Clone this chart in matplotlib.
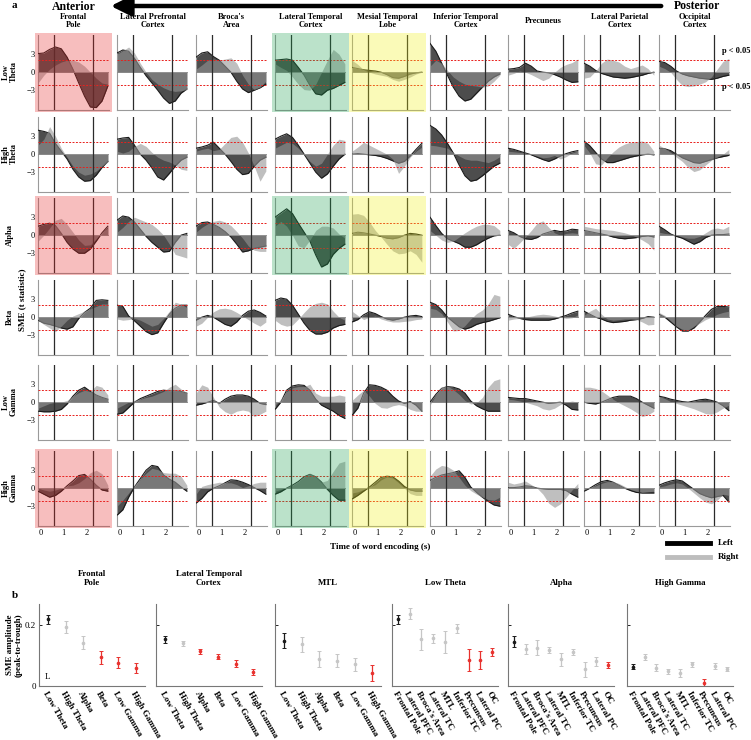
import matplotlib
matplotlib.use('Agg')
import matplotlib.pyplot as plt
from matplotlib.patches import Rectangle, FancyArrowPatch
from matplotlib.lines import Line2D

plt.rcParams['font.family'] = ['Liberation Serif', 'DejaVu Serif']

# ---------------- panel a data ----------------
regions_a = ['Frontal\nPole', 'Lateral Prefrontal\nCortex', "Broca's\nArea",
             'Lateral Temporal\nCortex', 'Mesial Temporal\nLobe', 'Inferior Temporal\nCortex',
             'Precuneus', 'Lateral Parietal\nCortex', 'Occipital\nCortex']
bands_a = ['Low\nTheta', 'High\nTheta', 'Alpha', 'Beta', 'Low\nGamma', 'High\nGamma']
time_s = [-0.1, 0.15, 0.4, 0.65, 0.9, 1.15, 1.4, 1.65, 1.9, 2.15, 2.4, 2.65, 2.9]
threshold = 2.1

# one row per region (FP, LPFC, Broca, LTC, MTL, ITC, Precuneus, LPC, OC)
low_theta_left = [
    [3.1, 3.2, 3.8, 4.2, 3.9, 2.5, 0.5, -1.8, -4.0, -5.8, -5.9, -4.8, -2.3],
    [3.2, 3.7, 3.5, 2.3, 0.8, -0.6, -1.8, -3.0, -4.3, -5.2, -4.8, -3.5, -2.8],
    [2.5, 3.2, 3.4, 2.6, 2.0, 1.0, 0.0, -1.5, -2.8, -3.4, -3.0, -2.6, -2.0],
    [2.0, 2.1, 2.2, 2.0, 0.8, -0.5, -2.2, -3.6, -3.8, -3.0, -2.7, -2.2, -1.7],
    [0.8, 0.6, 0.4, 0.3, 0.2, 0.0, -0.4, -0.9, -1.0, -0.7, -0.3, -0.1, 0.0],
    [4.8, 3.5, 1.5, -0.5, -2.5, -4.0, -4.8, -4.5, -3.5, -2.5, -1.5, -0.8, -0.3],
    [0.5, 0.6, 0.8, 1.5, 1.0, 0.2, 0.0, -0.1, -0.4, -0.8, -1.3, -1.7, -1.6],
    [1.5, 1.0, 0.3, -0.2, -0.5, -0.8, -0.9, -1.0, -0.9, -0.7, -0.5, -0.2, 0.0],
    [1.8, 1.6, 1.0, 0.2, -0.3, -0.6, -0.8, -1.0, -1.1, -1.2, -1.0, -0.7, -0.5],
]
low_theta_right = [
    [-1.8, -0.5, 0.5, 1.2, 1.7, 2.0, 2.0, 1.7, 1.0, 0.0, -1.0, -1.8, -2.0],
    [3.0, 3.6, 4.2, 3.2, 1.5, 0.0, -1.2, -2.0, -2.6, -3.0, -3.2, -3.1, -2.9],
    [0.5, 1.2, 2.0, 2.2, 2.0, 2.2, 2.4, 1.5, -0.5, -2.0, -2.9, -2.5, -1.5],
    [1.4, 0.8, 0.3, -0.8, -2.0, -2.9, -3.0, -2.0, 0.0, 2.0, 3.8, 3.0, 1.4],
    [2.0, 1.3, 0.4, 0.0, -0.3, -0.5, -0.7, -1.2, -1.5, -1.2, -0.8, -0.3, 0.0],
    [1.0, 2.0, 1.5, 0.3, -0.8, -1.5, -2.0, -2.2, -2.3, -2.5, -2.3, -1.5, -0.5],
    [-0.5, -0.2, 0.2, 0.0, -0.4, -0.9, -1.4, -1.0, 0.0, 0.8, 1.3, 1.6, 2.2],
    [-1.0, -0.8, 0.2, 1.5, 2.2, 2.0, 1.7, 1.0, 0.6, 0.9, 1.2, 0.6, -0.5],
    [1.0, 0.6, 0.0, -1.2, -2.2, -2.4, -2.3, -2.0, -1.6, -0.8, 0.5, 1.8, 2.3],
]
high_theta_left = [
    [4.0, 3.8, 3.5, 1.8, 0.5, -0.8, -2.5, -3.8, -4.5, -4.4, -3.5, -2.2, -1.2],
    [2.5, 2.7, 2.8, 1.5, 0.0, -1.0, -2.3, -3.8, -4.3, -3.2, -2.0, -1.0, -0.5],
    [1.0, 1.2, 1.5, 2.0, 1.0, 0.0, -1.2, -2.5, -3.4, -3.2, -2.0, -1.0, -0.5],
    [2.5, 3.0, 3.4, 2.8, 1.5, 0.0, -1.5, -3.0, -4.0, -3.3, -2.0, -0.8, 0.0],
    [0.0, 0.1, 0.0, -0.1, -0.2, -0.4, -0.7, -1.1, -1.5, -1.2, -0.3, 0.8, 1.8],
    [4.8, 4.2, 3.2, 1.8, 0.2, -1.8, -3.6, -4.5, -4.3, -3.6, -2.8, -2.0, -1.5],
    [1.0, 0.8, 0.5, 0.2, -0.1, -0.5, -0.9, -1.2, -0.8, -0.3, 0.1, 0.4, 0.6],
    [2.2, 1.4, 0.3, -0.8, -1.4, -1.4, -1.1, -0.8, -0.5, -0.3, -0.1, 0.0, -0.1],
    [1.0, 0.9, 0.6, 0.0, -0.6, -1.0, -1.4, -1.5, -1.2, -0.9, -0.6, -0.4, -0.2],
]
high_theta_right = [
    [1.5, 2.5, 4.6, 3.0, 1.0, -0.5, -2.0, -3.0, -3.5, -3.3, -2.8, -2.0, -1.3],
    [0.5, 0.2, 0.5, 1.3, 1.8, 1.3, 0.3, -0.5, -1.0, -1.3, -1.8, -2.5, -2.7],
    [0.5, 0.8, 1.0, 0.6, 0.8, 1.8, 2.8, 3.0, 2.0, 0.2, -2.0, -4.5, -2.8],
    [1.0, 1.5, 2.0, 1.8, 1.0, 0.0, -1.2, -2.0, -1.5, 0.0, 1.5, 2.5, 2.3],
    [0.5, 1.2, 2.0, 1.5, 1.0, 0.5, 0.0, -0.8, -3.2, -2.0, -0.5, 0.5, 1.2],
    [1.5, 1.4, 1.2, 1.0, 0.3, -0.3, -0.8, -1.0, -1.0, -1.2, -1.4, -1.0, -0.4],
    [0.5, 0.4, 0.3, 0.2, 0.0, -0.3, -0.6, -0.5, -0.2, -0.8, -0.4, 0.2, 0.5],
    [1.5, 0.2, -1.6, -1.8, -0.6, 0.4, 1.2, 1.7, 2.0, 2.1, 2.2, 1.8, 0.5],
    [1.5, 1.0, 0.3, -0.5, -1.2, -2.2, -2.9, -2.6, -1.8, -1.0, -0.5, 0.0, 0.8],
]
alpha_left = [
    [1.5, 1.8, 2.0, 1.6, 0.3, -1.2, -2.3, -3.0, -3.0, -2.3, -1.0, 0.4, 1.5],
    [2.5, 3.2, 3.0, 2.2, 1.0, -0.2, -1.2, -2.0, -2.8, -2.7, -1.2, 0.0, 0.3],
    [1.5, 2.1, 2.2, 1.8, 1.3, 0.6, -0.3, -1.5, -2.8, -2.6, -2.2, -2.0, -1.8],
    [3.0, 3.7, 4.4, 3.6, 2.0, 0.5, -1.0, -3.3, -5.3, -4.8, -3.2, -2.2, -1.5],
    [0.3, 0.5, 0.4, 0.2, 0.0, -0.2, -0.5, -0.6, -0.4, 0.0, 0.3, 0.2, 0.0],
    [3.0, 1.6, 0.3, -0.6, -1.0, -1.4, -2.0, -2.0, -1.6, -1.0, -0.5, -0.1, 0.0],
    [0.8, 0.4, -0.2, -0.6, -0.7, -0.4, 0.2, 0.5, 0.8, 0.6, 0.7, 1.0, 0.9],
    [0.8, 0.6, 0.4, 0.2, 0.0, -0.3, -0.5, -0.6, -0.5, -0.4, -0.2, -0.1, -0.3],
    [1.5, 0.9, 0.2, -0.2, -0.5, -1.0, -1.5, -1.1, -0.4, 0.0, 0.1, 0.1, 0.2],
]
alpha_right = [
    [-1.0, 0.0, 1.2, 2.5, 2.8, 1.8, 0.5, -0.8, -1.7, -1.6, -0.6, 0.5, 1.2],
    [0.5, 1.3, 2.3, 3.0, 2.6, 2.2, 1.8, 1.0, 0.0, -1.5, -3.2, -3.5, -3.8],
    [0.5, 1.3, 1.9, 2.3, 2.5, 2.2, 1.6, 0.6, -0.5, -1.8, -2.5, -2.7, -2.7],
    [1.5, 2.3, 1.5, 0.0, -1.8, -2.1, -0.8, 0.8, 1.5, 1.5, 1.2, 0.2, -0.5],
    [3.5, 3.6, 3.3, 2.2, 0.8, -0.3, -1.5, -2.6, -3.1, -3.0, -2.6, -3.2, -4.5],
    [0.8, 0.0, -0.8, -1.2, -1.0, -0.3, 0.4, 1.0, 1.5, 1.8, 1.8, 1.6, 0.8],
    [-1.5, -2.2, -1.3, -0.3, 0.8, 2.0, 2.4, 1.3, 0.4, 0.0, 0.3, 0.4, 0.3],
    [1.5, 1.3, 1.1, 1.0, 0.9, 0.8, 0.6, 0.4, 0.1, -0.3, -0.8, -1.4, -2.5],
    [0.5, 0.3, 0.2, 0.0, -0.3, -0.5, -0.5, -0.2, 0.4, 1.0, 1.2, 1.0, 1.5],
]
beta_left = [
    [-0.5, -1.0, -1.2, -1.5, -1.8, -2.0, -1.6, -0.2, 0.8, 1.5, 2.8, 2.9, 2.8],
    [2.0, 1.8, 0.2, -0.6, -1.5, -2.4, -2.9, -2.6, -1.0, 0.5, 1.5, 2.0, 2.0],
    [-0.5, 0.0, 0.3, 0.0, -0.6, -1.2, -1.5, -0.8, 0.3, 1.0, 1.2, 0.8, 0.2],
    [2.8, 3.2, 3.0, 2.0, 0.5, -1.0, -2.2, -2.8, -2.8, -2.5, -1.8, -1.4, -1.2],
    [-0.8, -0.4, 0.4, 0.9, 0.6, 0.1, -0.3, -0.5, -0.3, 0.0, 0.2, 0.3, 0.1],
    [2.5, 2.1, 1.2, 0.0, -0.8, -1.6, -2.0, -1.7, -1.2, -0.9, -0.7, -0.4, -0.1],
    [0.5, 0.1, -0.2, -0.4, -0.5, -0.5, -0.5, -0.5, -0.3, 0.0, 0.3, 0.7, 1.0],
    [1.0, 0.5, 0.0, -0.3, -0.7, -0.9, -0.8, -0.7, -0.5, -0.4, -0.2, 0.1, 0.0],
    [0.5, 0.0, -0.8, -1.6, -2.3, -2.3, -1.8, -0.8, 0.3, 1.3, 1.8, 1.8, 1.7],
]
beta_right = [
    [-0.5, -1.2, -1.8, -2.4, -1.5, -0.5, 0.2, 0.6, 1.0, 1.4, 1.8, 2.2, 2.2],
    [-0.3, -0.5, -0.4, -0.2, -0.5, -1.0, -1.5, -1.2, -0.2, 1.0, 2.5, 2.2, 1.6],
    [-1.5, -1.0, 0.0, 0.9, 1.4, 1.5, 1.3, 0.8, 0.2, -0.4, -1.0, -1.5, -0.8],
    [-0.5, -1.2, -1.5, -1.3, -0.3, 0.8, 1.8, 2.3, 2.5, 2.2, 1.0, 0.0, -0.5],
    [1.0, 0.3, -0.4, 0.0, 0.2, -0.3, -0.6, -0.8, -0.8, -0.7, -0.6, -0.4, -0.3],
    [1.5, 1.3, 0.6, -0.8, -2.3, -2.2, -1.4, -0.3, 0.6, 1.2, 2.2, 3.8, 3.5],
    [-0.5, -0.3, -0.2, 0.0, 0.2, 0.4, 0.5, 0.4, 0.2, 0.0, -0.2, -0.1, 0.4],
    [0.3, 1.0, 1.5, 0.5, -0.3, -0.5, -0.4, -0.3, -0.3, -0.4, -0.8, -1.3, -1.2],
    [0.8, 0.3, -0.6, -1.5, -2.0, -2.2, -1.5, -1.0, -0.4, 0.0, 0.5, 0.8, 1.0],
]
low_gamma_left = [
    [-1.5, -1.6, -1.6, -1.5, -1.2, -0.3, 1.0, 2.0, 2.5, 1.8, 1.2, 0.8, 0.5],
    [-2.0, -1.8, -0.9, 0.0, 0.6, 1.0, 1.4, 1.8, 2.0, 1.9, 1.9, 1.8, 1.5],
    [-0.5, -0.3, 0.0, 0.3, -0.2, 0.5, 1.0, 1.2, 1.2, 1.0, 0.5, -0.2, -0.4],
    [-1.2, 0.0, 2.0, 2.7, 2.9, 2.8, 2.0, 0.5, -0.5, -1.0, -1.5, -2.2, -2.7],
    [-2.2, -1.0, 1.5, 2.9, 2.8, 2.5, 2.0, 1.0, 0.2, -0.2, 0.1, -0.5, -1.5],
    [0.0, 1.3, 2.3, 2.6, 2.5, 2.2, 1.5, 0.2, -0.6, -1.1, -1.5, -1.5, -1.5],
    [0.8, 0.7, 0.6, 0.6, 0.4, 0.2, 0.0, -0.2, -0.1, 0.0, -0.5, -1.2, -1.3],
    [0.0, -0.2, -0.3, 0.0, 0.4, 0.8, 1.0, 1.0, 1.0, 0.6, 0.0, -0.5, -1.0],
    [1.0, 0.8, 0.5, 0.3, 0.1, 0.0, 0.2, 0.4, 0.5, 0.3, 0.0, -0.6, -1.4],
]
low_gamma_right = [
    [-1.0, -0.6, -0.2, 0.0, 0.0, 0.3, 1.0, 1.6, 2.0, 1.8, 2.8, 2.5, 1.2],
    [-1.0, -0.5, 0.0, 0.3, 0.5, 0.8, 1.0, 1.4, 1.8, 2.5, 3.0, 2.2, 1.6],
    [1.5, 2.9, 2.5, 0.8, -0.8, -1.6, -2.0, -1.5, -1.3, -1.5, -2.4, -2.0, -1.5],
    [-0.5, 0.5, 1.8, 2.4, 2.6, 2.6, 3.0, 1.5, 1.0, 1.0, 1.0, 1.2, 1.0],
    [0.3, 1.2, 2.0, 1.0, -0.2, -0.9, -1.0, -0.6, -0.4, -0.6, -1.2, -1.5, -1.5],
    [-0.5, 1.2, 2.6, 2.7, 2.1, 1.3, 0.3, -0.3, -0.1, 0.8, 2.5, 3.6, 3.9],
    [0.5, 0.4, 0.2, 0.0, -0.3, -0.6, -1.1, -1.3, -1.0, -0.4, 0.0, 0.2, 0.0],
    [2.5, 2.5, 2.3, 1.9, 1.2, 0.5, -0.1, -0.6, -1.1, -1.7, -2.4, -2.1, -1.5],
    [1.0, 0.6, 0.1, -0.2, -0.5, -0.8, -1.1, -1.5, -1.9, -2.0, -1.6, -1.0, -0.5],
]
high_gamma_left = [
    [-0.5, -1.0, -1.5, -1.2, -0.5, 0.4, 1.2, 2.1, 2.3, 1.5, 0.5, -0.3, -0.5],
    [-4.5, -3.6, -1.5, 0.2, 1.6, 3.0, 3.8, 3.6, 2.2, 1.5, 1.0, 0.2, -0.5],
    [-2.5, -1.7, -0.6, 0.0, 0.4, 0.9, 1.4, 1.3, 1.0, 0.6, 0.1, -0.4, -1.0],
    [-1.0, -0.6, 0.0, 0.5, 1.1, 1.9, 2.3, 1.9, 1.0, -0.2, -1.2, -2.0, -2.0],
    [-1.8, -1.2, -0.5, 0.2, 1.0, 1.8, 2.0, 1.9, 1.2, 0.3, -0.3, -0.5, -0.5],
    [1.3, 1.8, 2.2, 2.4, 2.6, 2.9, 1.8, 0.2, -0.7, -1.5, -2.2, -2.8, -3.0],
    [0.1, 0.1, 0.2, 0.4, 0.3, 0.0, -0.1, -0.2, -0.2, -0.2, -0.4, -1.0, -1.5],
    [-0.5, 0.0, 0.6, 1.1, 1.3, 1.0, 0.5, 0.0, -0.4, -0.7, -0.8, -0.8, -0.8],
    [0.5, 0.9, 1.2, 1.4, 1.2, 0.5, -0.2, -0.9, -1.3, -1.6, -1.4, -1.2, -2.3],
]
high_gamma_right = [
    [0.0, -0.3, -0.5, -0.3, 0.0, 0.4, 0.5, 0.9, 1.6, 2.6, 3.0, 2.4, 0.5],
    [-3.0, -2.0, -0.8, 0.5, 1.5, 2.5, 3.3, 3.1, 2.6, 2.5, 2.5, 2.0, 0.5],
    [-1.0, 0.3, 0.6, 0.8, 1.0, 0.9, 0.9, 0.6, 0.1, 0.4, 0.8, 1.0, 1.0],
    [-0.5, -0.2, 0.2, 0.6, 1.2, 2.0, 2.5, 2.0, 1.0, 1.3, 2.8, 4.2, 4.5],
    [-0.8, -0.6, -0.2, 0.2, 0.6, 1.4, 1.9, 1.7, 0.9, 0.0, -0.9, -1.2, -1.2],
    [2.0, 3.2, 3.8, 3.6, 3.0, 1.8, 0.5, -0.4, -1.0, -1.5, -1.9, -2.0, -1.5],
    [1.0, 0.7, 0.9, 1.2, 0.6, 0.0, -1.0, -2.5, -3.2, -2.6, -1.5, -0.3, 0.8],
    [-0.3, 0.1, 0.4, 0.8, 1.1, 1.1, 0.8, 0.3, -0.2, -0.5, -0.7, -0.6, -0.5],
    [0.2, 0.4, 0.7, 0.9, 0.7, 0.0, -0.8, -1.6, -2.3, -2.6, -2.0, -1.0, -1.2],
]

left_rows = [low_theta_left, high_theta_left, alpha_left, beta_left, low_gamma_left, high_gamma_left]
right_rows = [low_theta_right, high_theta_right, alpha_right, beta_right, low_gamma_right, high_gamma_right]

# ---------------- panel b data ----------------
bands_b = ['Low Theta', 'High Theta', 'Alpha', 'Beta', 'Low Gamma', 'High Gamma']
regions_b = ['Frontal Pole', 'Lateral PFC', "Broca's Area", 'Lateral TC', 'MTL',
             'Inferior TC', 'Precuneus', 'Lateral PC', 'OC']

fp_amp = [0.219, 0.194, 0.143, 0.094, 0.077, 0.059]
fp_err = [0.015, 0.020, 0.020, 0.020, 0.017, 0.016]
fp_col = ['k', 'g', 'g', 'r', 'r', 'r']
ltc_amp = [0.154, 0.141, 0.114, 0.096, 0.074, 0.046]
ltc_err = [0.011, 0.008, 0.009, 0.008, 0.010, 0.010]
ltc_col = ['k', 'g', 'r', 'r', 'r', 'r']
mtl_amp = [0.149, 0.137, 0.089, 0.083, 0.071, 0.043]
mtl_err = [0.025, 0.025, 0.025, 0.022, 0.022, 0.025]
mtl_col = ['k', 'g', 'g', 'g', 'g', 'r']
lth_amp = [0.219, 0.238, 0.154, 0.157, 0.145, 0.190, 0.086, 0.086, 0.112]
lth_err = [0.015, 0.018, 0.035, 0.015, 0.035, 0.015, 0.035, 0.030, 0.012]
lth_col = ['k', 'g', 'g', 'g', 'g', 'g', 'r', 'r', 'r']
alp_amp = [0.146, 0.122, 0.126, 0.118, 0.088, 0.111, 0.055, 0.081, 0.069]
alp_err = [0.018, 0.017, 0.025, 0.010, 0.022, 0.010, 0.025, 0.015, 0.010]
alp_col = ['k', 'g', 'g', 'g', 'g', 'g', 'g', 'g', 'r']
hga_amp = [0.063, 0.095, 0.060, 0.048, 0.043, 0.071, 0.011, 0.066, 0.057]
hga_err = [0.008, 0.010, 0.012, 0.008, 0.013, 0.008, 0.012, 0.010, 0.007]
hga_col = ['k', 'g', 'g', 'g', 'g', 'g', 'r', 'g', 'g']

W, H = 751, 740
fig = plt.figure(figsize=(W / 100, H / 100), dpi=100)


def fig_rect(x, y, w, h):
    # pixel box (top-left origin) -> figure fraction
    return [x / W, 1 - (y + h) / H, w / W, h / H]


col_left = [38, 117, 196, 275, 352, 430, 508, 584, 659]
row_top = [35, 117, 198, 280, 365, 451]
pw, ph = 71, 75
highlight = {0: '#e62828', 3: '#1ea050', 4: '#f0f014'}
highlight_rows = [0, 2, 5]

for r in range(6):
    for c in range(9):
        ax = fig.add_axes(fig_rect(col_left[c], row_top[r], pw, ph))
        lv = left_rows[r][c]
        rv = right_rows[r][c]
        ax.fill_between(time_s, 0, lv, color='#4d4d4d', lw=0, zorder=2)
        ax.plot(time_s, lv, color='#1a1a1a', lw=0.8, zorder=3)
        ax.fill_between(time_s, 0, rv, color='#959595', alpha=0.6, lw=0, zorder=4)
        ax.axhline(0, color='#8a8a8a', lw=0.6, zorder=4)
        for thr in (threshold, -threshold):
            ax.axhline(thr, color='#e8201c', ls=(0, (2, 1.5)), lw=0.7, zorder=5)
        for v in (0.6, 2.28):
            ax.axvline(v, color='#2b2b2b', lw=0.9, zorder=6)
        ax.set_xlim(-0.1, 2.95)
        ax.set_ylim(-6.3, 6.2)
        for s in ('top', 'right'):
            ax.spines[s].set_visible(False)
        for s in ('left', 'bottom'):
            ax.spines[s].set_color('#9a9a9a')
            ax.spines[s].set_linewidth(0.8)
        ax.tick_params(length=0, labelsize=6, pad=2)
        if c == 0:
            ax.set_yticks([3, 0, -3])
        else:
            ax.set_yticks([])
        if r == 5:
            ax.set_xticks([0, 1, 2])
        else:
            ax.set_xticks([])
        if c in highlight and r in highlight_rows:
            fig.add_artist(Rectangle(((col_left[c] - 3) / W, 1 - (row_top[r] + ph + 2) / H),
                                     (pw + 6) / W, (ph + 4) / H, transform=fig.transFigure,
                                     facecolor=highlight[c], edgecolor='none', alpha=0.3, zorder=10))

# column titles, row labels
for c in range(9):
    fig.text((col_left[c] + pw / 2) / W, 1 - 21 / H, regions_a[c], ha='center', va='center',
             fontsize=6, fontweight='bold', linespacing=1.1)
for r in range(6):
    fig.text(10 / W, 1 - (row_top[r] + 37) / H, bands_a[r], rotation=90, ha='center', va='center',
             fontsize=6, fontweight='bold', linespacing=1.0)
fig.text(22 / W, 1 - 300 / H, 'SME (t statistic)', rotation=90, ha='center', va='center',
         fontsize=6.5, fontweight='bold')

fig.text(12 / W, 1 - 6 / H, 'a', fontsize=8, fontweight='bold', ha='left', va='center')
fig.text(52 / W, 1 - 7 / H, 'Anterior', fontsize=8.5, fontweight='bold', ha='left', va='center')
fig.text(674 / W, 1 - 6 / H, 'Posterior', fontsize=8.5, fontweight='bold', ha='left', va='center')
fig.add_artist(FancyArrowPatch((664 / W, 1 - 6 / H), (108 / W, 1 - 6 / H),
               transform=fig.transFigure, arrowstyle='-|>,head_length=6,head_width=3',
               lw=3.2, color='black', mutation_scale=2))

fig.text(722 / W, 1 - 51 / H, 'p < 0.05', fontsize=6, fontweight='bold', ha='left', va='center')
fig.text(722 / W, 1 - 87 / H, 'p < 0.05', fontsize=6, fontweight='bold', ha='left', va='center')

fig.text(380 / W, 1 - 547 / H, 'Time of word encoding (s)', fontsize=6.5, fontweight='bold',
         ha='center', va='center')
fig.add_artist(Line2D([667 / W, 710 / W], [1 - 543 / H] * 2, color='black', lw=3.5))
fig.add_artist(Line2D([667 / W, 710 / W], [1 - 557 / H] * 2, color='#bdbdbd', lw=3.5))
fig.text(718 / W, 1 - 543 / H, 'Left', fontsize=6.5, fontweight='bold', va='center')
fig.text(718 / W, 1 - 557 / H, 'Right', fontsize=6.5, fontweight='bold', va='center')

# ---------------- panel b ----------------
fig.text(12 / W, 1 - 596 / H, 'b', fontsize=8, fontweight='bold', ha='left', va='center')
colors_b = {'k': '#1a1a1a', 'g': '#c6c6c6', 'r': '#e8322e'}
b_panels = [
    ('Frontal\nPole', bands_b, fp_amp, fp_err, fp_col),
    ('Lateral Temporal\nCortex', bands_b, ltc_amp, ltc_err, ltc_col),
    ('MTL', bands_b, mtl_amp, mtl_err, mtl_col),
    ('Low Theta', regions_b, lth_amp, lth_err, lth_col),
    ('Alpha', regions_b, alp_amp, alp_err, alp_col),
    ('High Gamma', regions_b, hga_amp, hga_err, hga_col),
]
b_left = [39, 156, 275, 392, 508, 627]
for k, (title, labels, amp, err, cols) in enumerate(b_panels):
    ax = fig.add_axes(fig_rect(b_left[k], 604, 106, 82))
    for i in range(len(amp)):
        cc = colors_b[cols[i]]
        ax.errorbar(i, amp[i], yerr=err[i], fmt='o', ms=1.6, color=cc, ecolor=cc,
                    elinewidth=0.9, capsize=1.5, capthick=0.7)
    ax.set_xlim(-0.5, len(amp) - 0.5)
    ax.set_ylim(0, 0.27)
    for s in ('top', 'right'):
        ax.spines[s].set_visible(False)
    for s in ('left', 'bottom'):
        ax.spines[s].set_color('#777777')
        ax.spines[s].set_linewidth(0.8)
    ax.set_xticks(range(len(labels)))
    ax.set_xticklabels(labels, rotation=-60, ha='left', va='top', rotation_mode='anchor',
                       fontsize=6.5, fontweight='bold')
    ax.tick_params(axis='x', length=0, pad=3)
    ax.set_yticks([0, 0.2])
    ax.tick_params(axis='y', direction='in', length=2, width=0.6, labelsize=6.5, pad=2)
    if k == 0:
        ax.set_yticklabels(['0', '0.2'])
        ax.set_ylabel('SME amplitude\n(peak-to-trough)', fontsize=6.5, fontweight='bold',
                      labelpad=2, linespacing=1.1)
        ax.text(0.05, 0.08, 'L', transform=ax.transAxes, fontsize=6.5)
    else:
        ax.set_yticklabels([])
    ax.set_title(title, fontsize=6.3, fontweight='bold', pad=14, linespacing=1.1)

fig.savefig('out.png', dpi=100)
